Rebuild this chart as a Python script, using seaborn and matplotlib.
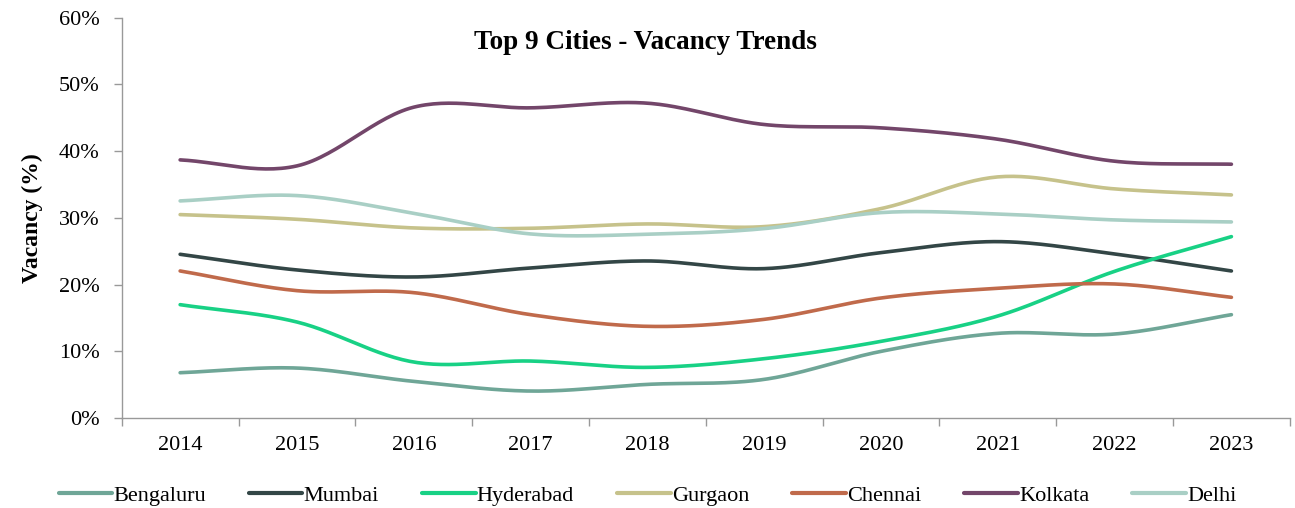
import numpy as np
import pandas as pd
import seaborn as sns
import matplotlib.pyplot as plt
from matplotlib.ticker import FixedLocator, PercentFormatter

# vacancy (%) per year
years = ["2014", "2015", "2016", "2017", "2018", "2019", "2020", "2021", "2022", "2023"]
bengaluru = [6.8, 7.5, 5.5, 4.05, 5.05, 5.8, 10.0, 12.7, 12.6, 15.5]
mumbai = [24.55, 22.2, 21.15, 22.5, 23.55, 22.4, 24.8, 26.45, 24.6, 22.05]
hyderabad = [17.0, 14.4, 8.4, 8.55, 7.6, 8.9, 11.5, 15.3, 22.0, 27.2]
gurgaon = [30.5, 29.8, 28.5, 28.45, 29.1, 28.7, 31.4, 36.15, 34.35, 33.45]
chennai = [22.05, 19.1, 18.8, 15.5, 13.75, 14.8, 18.0, 19.45, 20.1, 18.1]
kolkata = [38.7, 37.8, 46.6, 46.5, 47.2, 44.0, 43.5, 41.8, 38.5, 38.05]
delhi = [32.55, 33.35, 30.7, 27.6, 27.55, 28.4, 30.8, 30.6, 29.7, 29.4]

cities = ["Bengaluru", "Mumbai", "Hyderabad", "Gurgaon", "Chennai", "Kolkata", "Delhi"]
series = [bengaluru, mumbai, hyderabad, gurgaon, chennai, kolkata, delhi]
colors = ["#6fa697", "#334646", "#18d185", "#c6c28b", "#c06a4b", "#73466a", "#a9cfc5"]


def smooth(y, n=30):
    # catmull-rom curve through the points, like Excel's smoothed line
    y = np.asarray(y, dtype=float)
    p = np.concatenate([[2 * y[0] - y[1]], y, [2 * y[-1] - y[-2]]])
    xs, ys = [], []
    for i in range(len(y) - 1):
        p0, p1, p2, p3 = p[i], p[i + 1], p[i + 2], p[i + 3]
        t = np.linspace(0, 1, n, endpoint=False)
        yy = 0.5 * (2 * p1 + (-p0 + p2) * t + (2 * p0 - 5 * p1 + 4 * p2 - p3) * t ** 2
                    + (-p0 + 3 * p1 - 3 * p2 + p3) * t ** 3)
        xs.extend(i + t)
        ys.extend(yy)
    xs.append(len(y) - 1)
    ys.append(y[-1])
    return np.array(xs), np.array(ys)


rows = []
for name, vals in zip(cities, series):
    xs, ys = smooth(vals)
    rows.append(pd.DataFrame({"x": xs, "vacancy": ys, "city": name}))
df = pd.concat(rows, ignore_index=True)

sns.set_style("white")
plt.rcParams["font.family"] = ["Liberation Serif", "DejaVu Serif"]
plt.rcParams["text.color"] = "black"
plt.rcParams["axes.labelcolor"] = "black"

fig = plt.figure(figsize=(12.95, 5.08), dpi=100)
ax = fig.add_axes([0.094, 0.177, 0.902, 0.788])

sns.lineplot(data=df, x="x", y="vacancy", hue="city", hue_order=cities,
             palette=colors, sort=False, estimator=None, linewidth=2.6,
             solid_capstyle="round", legend=False, ax=ax)

ax.set_xlim(-0.5, len(years) - 0.5)
ax.set_ylim(0, 60)
ax.yaxis.set_major_locator(FixedLocator(np.arange(0, 61, 10)))
ax.yaxis.set_major_formatter(PercentFormatter(decimals=0))

# tick marks sit between the categories, labels at the categories
ax.xaxis.set_major_locator(FixedLocator(np.arange(-0.5, len(years), 1.0)))
ax.xaxis.set_major_formatter(plt.NullFormatter())
ax.xaxis.set_minor_locator(FixedLocator(np.arange(len(years))))
ax.set_xticklabels(years, minor=True)
ax.tick_params(axis="x", which="major", length=6, width=1, color="#999999", direction="out")
ax.tick_params(axis="x", which="minor", length=0, pad=13, labelsize=16, labelcolor="black")
ax.tick_params(axis="y", length=6, width=1, color="#999999", direction="out", labelsize=16,
               pad=10, labelcolor="black")
ax.tick_params(bottom=True, left=True)

for s in ["top", "right"]:
    ax.spines[s].set_visible(False)
for s in ["left", "bottom"]:
    ax.spines[s].set_color("#999999")
    ax.spines[s].set_linewidth(1)

ax.set_xlabel("")
ax.set_ylabel("Vacancy (%)", fontsize=17, fontweight="bold", labelpad=11)
ax.text(0.448, 0.9375, "Top 9 Cities - Vacancy Trends", transform=ax.transAxes,
        ha="center", va="center", fontsize=19.5, fontweight="bold")

handles = [plt.Line2D([], [], color=c, linewidth=3) for c in colors]
fig.legend(handles, cities, loc="center", bbox_to_anchor=(0.5, 0.024), ncol=7,
           frameon=False, fontsize=16, handlelength=2.4, handletextpad=0.05,
           columnspacing=1.95)

fig.savefig("out.png", dpi=100)
